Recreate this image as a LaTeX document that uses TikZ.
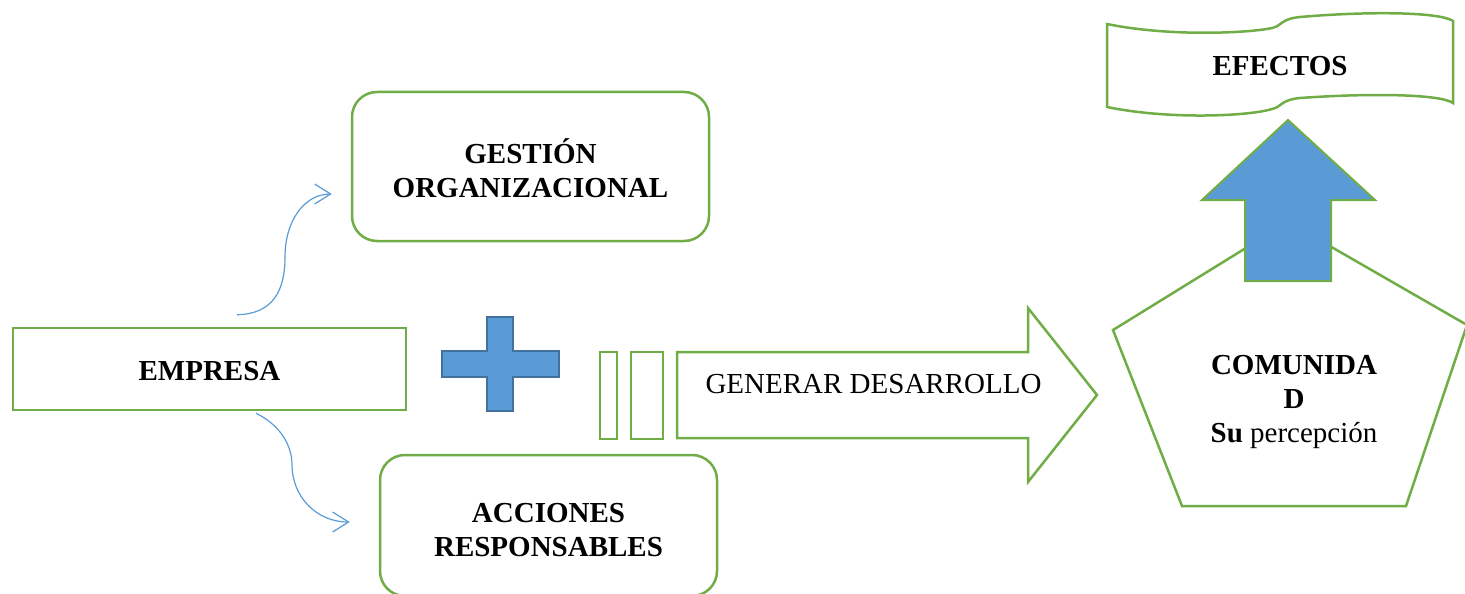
\documentclass[tikz,border=0pt]{standalone}
\usepackage{fontspec}
\setmainfont{Liberation Serif}
\usetikzlibrary{arrows.meta}
\definecolor{grn}{HTML}{70AD47}
\definecolor{blu}{HTML}{5B9BD5}
\definecolor{dblu}{HTML}{41719C}
\begin{document}
\begin{tikzpicture}[x=1pt,y=-1pt,
  font=\fontsize{29}{34}\selectfont,
  gbox/.style={draw=grn,line width=2.5pt,fill=white,inner sep=0pt,align=center},
  rbox/.style={gbox,rounded corners=25pt},
  gline/.style={draw=grn,line width=2.5pt},
  curvearrow/.style={draw=blu,line width=1.2pt,-{Straight Barb[length=16pt,width=20pt,line width=1.2pt]}}]
\useasboundingbox (0,0) rectangle (1465,594);

% boxes
\node[gbox,minimum width=393pt,minimum height=82pt] (empresa) at (209.5,369) {};
\node (empresatxt) at (209.5,371) {\textbf{EMPRESA}};
\node[rbox,minimum width=357pt,minimum height=149pt] (gestion) at (530.5,166.5) {};
\node[align=center] (gestiontxt) at (530.5,168) {\textbf{GESTIÓN}\\\textbf{ORGANIZACIONAL}};
\node[rbox,minimum width=337pt,minimum height=141pt] (acciones) at (548.5,525.5) {};
\node[align=center] (accionestxt) at (548.5,530.5) {\textbf{ACCIONES}\\\textbf{RESPONSABLES}};

% curved arrows
\coordinate (c1s) at ([xshift=27.5pt,yshift=12pt]empresa.north);
\coordinate (c1e) at ([xshift=-19pt,yshift=-27.5pt]gestion.west);
\coordinate (c2s) at ([xshift=46.5pt,yshift=-2pt]empresa.south);
\coordinate (c2e) at ([xshift=-29pt,yshift=3.5pt]acciones.west);
\draw[curvearrow] (c1s) .. controls (272,314) and (285,292) .. (285,257) .. controls (285,220) and (305,194) .. (c1e);
\draw[curvearrow] (c2s) .. controls (280,425) and (292,445) .. (292,465) .. controls (292,495) and (315,522) .. (c2e);

% plus sign
\draw[fill=blu,draw=dblu,line width=2pt] (487,317) -- (513,317) -- (513,351) -- (559,351) -- (559,377) -- (513,377) -- (513,411) -- (487,411) -- (487,377) -- (442,377) -- (442,351) -- (487,351) -- cycle;

% equals bars
\draw[gline] (600,352) rectangle (617,439);
\draw[gline] (631,352) rectangle (663,439);

% big arrow
\draw[gline,line join=miter] (677,352) -- (1028,352) -- (1028,308) -- (1097,395) -- (1028,482) -- (1028,438) -- (677,438) -- cycle;
\node[anchor=base west] (gen) at (702,393) {GENERAR DESARROLLO};

% pentagon
\draw[gline,fill=white] (1288,222) -- (1467,325) -- (1406,506) -- (1182,506) -- (1113,330) -- cycle;
\node[align=center] (comunidad) at (1294,402) {\textbf{COMUNIDA}\\\textbf{D}\\\textbf{Su} percepción};

% up arrow
\draw[fill=blu,draw=grn,line width=2pt] (1288,120) -- (1375,200) -- (1331,200) -- (1331,281) -- (1245,281) -- (1245,200) -- (1202,200) -- cycle;

% banner
\draw[gline,fill=white] (1107,24) .. controls (1170,37) and (1250,33) .. (1272,28)
  .. controls (1282,26) and (1280,19) .. (1300,17)
  .. controls (1370,11) and (1440,12) .. (1453,21)
  -- (1453,103)
  .. controls (1440,94) and (1370,93) .. (1300,98)
  .. controls (1280,100) and (1282,107) .. (1272,109)
  .. controls (1250,116) and (1170,120) .. (1107,107) -- cycle;
\node (efectos) at (1280,66) {\textbf{EFECTOS}};
\end{tikzpicture}
\end{document}
